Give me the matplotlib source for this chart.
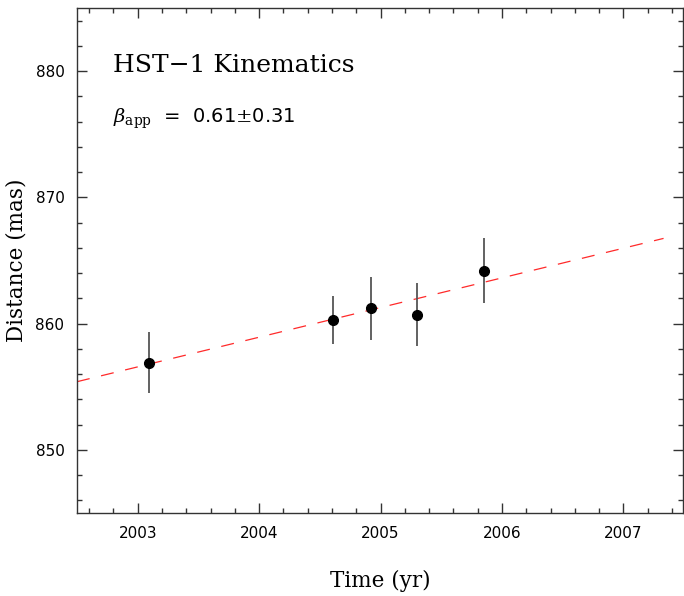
import numpy as np
import matplotlib
matplotlib.use("Agg")
import matplotlib.pyplot as plt
from matplotlib.ticker import MultipleLocator

# epochs (yr), distance (mas), 1-sigma errors (mas)
epochs = [2003.09, 2004.61, 2004.92, 2005.30, 2005.85]
dist = [856.9, 860.3, 861.2, 860.7, 864.2]
dist_err = [2.4, 1.9, 2.5, 2.5, 2.6]

# linear fit: distance = fit_d0 + fit_slope * (t - fit_t0), drawn over fit_span
fit_t0 = 2002.5
fit_d0 = 855.4
fit_slope = 2.35  # mas/yr
fit_span = [2002.5, 2007.33]

title = "HST\u22121 Kinematics"
beta_txt = r"$\beta_{\rm app}$  =  0.61$\pm$0.31"

xlim = (2002.5, 2007.49)
ylim = (845, 885)

plt.rcParams["mathtext.fontset"] = "dejavuserif"

fig = plt.figure(figsize=(6.84, 5.96), dpi=100)
ax = fig.add_axes([77/684, 83/596, 606/684, 505/596])

tt = np.array(fit_span)
ax.plot(tt, fit_d0 + fit_slope * (tt - fit_t0), color="#ff2a2a", lw=0.9,
        dashes=(10.4, 9.4), zorder=1)
ax.errorbar(epochs, dist, yerr=dist_err, fmt="o", color="black", ms=7,
            ecolor="#555555", elinewidth=1.3, capsize=0, zorder=3)

ax.set_xlim(*xlim)
ax.set_ylim(*ylim)
ax.xaxis.set_major_locator(MultipleLocator(1))
ax.xaxis.set_minor_locator(MultipleLocator(0.2))
ax.yaxis.set_major_locator(MultipleLocator(10))
ax.yaxis.set_minor_locator(MultipleLocator(2))
ax.tick_params(which="both", direction="in", top=True, right=True,
               labelsize=11, width=1, colors="#333333", labelcolor="black")
ax.tick_params(which="major", length=7, pad=9)
ax.tick_params(which="minor", length=3.5)
for s in ax.spines.values():
    s.set_linewidth(1.0)
    s.set_color("#333333")

ax.set_xlabel("Time (yr)", family="DejaVu Serif", fontsize=15.5, labelpad=21)
ax.set_ylabel("Distance (mas)", family="DejaVu Serif", fontsize=15.5, labelpad=6)

ax.text(0.06, 0.886, title, transform=ax.transAxes, family="DejaVu Serif",
        fontsize=18, va="center", ha="left")
ax.text(0.06, 0.78, beta_txt, transform=ax.transAxes, fontsize=14,
        va="center", ha="left")

fig.savefig("out.png", dpi=100)
